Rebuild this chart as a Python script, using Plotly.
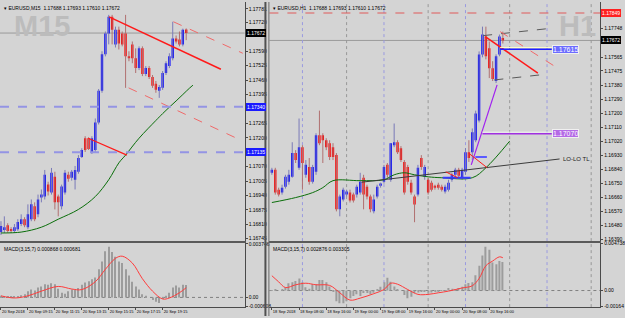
import plotly.graph_objects as go

W, H = 625, 318
BG = "#d4d4d4"

# ---------------- EURUSD M15 (left) ----------------
m15_open = [1.16775,1.16784,1.16806,1.16788,1.16780,1.16788,1.16811,1.16833,1.16797,1.16833,
            1.16891,1.16855,1.16931,1.16935,1.16989,1.16953,1.17024,1.16935,1.16891,1.16953,
            1.17033,1.17020,1.17011,1.17047,1.17113,1.17198,1.17198,1.17136,1.17145,1.17269,
            1.17412,1.17576,1.17670,1.17745,1.17621,1.17687,1.17670,1.17670,1.17567,1.17621,
            1.17558,1.17514,1.17603,1.17487,1.17514,1.17474,1.17443,1.17412,1.17425,1.17492,
            1.17523,1.17558,1.17647,1.17643,1.17621,1.17688]
m15_close = [1.16802,1.16797,1.16780,1.16780,1.16797,1.16820,1.16833,1.16806,1.16855,1.16900,
             1.16833,1.16922,1.16944,1.17033,1.16958,1.17042,1.16909,1.16909,1.16980,1.17042,
             1.17015,1.17047,1.17055,1.17109,1.17145,1.17145,1.17149,1.17198,1.17269,1.17412,
             1.17576,1.17670,1.17745,1.17687,1.17687,1.17625,1.17621,1.17567,1.17558,1.17558,
             1.17514,1.17603,1.17487,1.17514,1.17474,1.17434,1.17416,1.17429,1.17492,1.17536,
             1.17567,1.17647,1.17634,1.17621,1.17687,1.17672]
m15_high = [1.16824,1.16846,1.16815,1.16797,1.16811,1.16833,1.16855,1.16842,1.16900,1.16922,
            1.16909,1.16944,1.16967,1.17055,1.17002,1.17064,1.17047,1.16944,1.16989,1.17055,
            1.17047,1.17055,1.17073,1.17122,1.17153,1.17207,1.17202,1.17207,1.17287,1.17420,
            1.17590,1.17679,1.17754,1.17754,1.17701,1.17701,1.17679,1.17754,1.17590,1.17634,
            1.17603,1.17612,1.17612,1.17523,1.17523,1.17483,1.17456,1.17438,1.17501,1.17545,
            1.17581,1.17723,1.17661,1.17679,1.17692,1.17693]
m15_low = [1.16762,1.16771,1.16771,1.16771,1.16771,1.16780,1.16802,1.16797,1.16788,1.16824,
           1.16824,1.16842,1.16909,1.16922,1.16940,1.16944,1.16877,1.16846,1.16877,1.16944,
           1.17002,1.17007,1.16967,1.17038,1.17109,1.17136,1.17145,1.17127,1.17136,1.17260,
           1.17403,1.17567,1.17621,1.17621,1.17607,1.17598,1.17612,1.17425,1.17545,1.17536,
           1.17492,1.17505,1.17478,1.17478,1.17465,1.17425,1.17403,1.17380,1.17416,1.17483,
           1.17514,1.17549,1.17625,1.17612,1.17612,1.17640]
m15_ma_x = [0, 6, 12, 17, 23, 28, 32, 35, 37, 41, 46, 48, 50, 52, 54, 56, 57]
m15_ma = [1.16771,1.16775,1.16797,1.16833,1.16877,1.16935,1.17011,1.17087,1.17122,1.17198,
          1.17278,1.17309,1.17338,1.17366,1.17395,1.17424,1.17437]
m15_macd = [0.00011,0.00007,0.00004,0.00007,0.00009,0.00009,0.00015,0.00022,0.00044,0.00055,
            0.00048,0.00070,0.00077,0.00092,0.00088,0.00099,0.00092,0.00061,0.00033,0.00026,
            0.00044,0.00055,0.00055,0.00066,0.00088,0.00105,0.00114,0.00127,0.00140,0.00197,
            0.00252,0.00324,0.00355,0.00318,0.00285,0.00252,0.00241,0.00197,0.00153,0.00110,
            0.00077,0.00055,0.00022,0.00011,0.00000,-0.00018,-0.00031,-0.00039,-0.00011,0.00011,
            0.00033,0.00070,0.00083,0.00070,0.00088,0.00087]
m15_sig_x = [0, 4, 8, 12, 17, 21, 24, 28, 31, 34, 36, 39, 42, 45, 48, 50, 53, 55]
m15_sig = [0.00011,-0.00004,0.00011,0.00044,0.00077,0.00059,0.00055,0.00110,0.00197,0.00274,
           0.00289,0.00241,0.00131,0.00044,-0.00011,-0.00004,0.00033,0.00068]
m15_tick_idx = [0, 8, 16, 24, 32, 40, 48]
m15_tick_txt = ["20 Sep 2018", "20 Sep 09:15", "20 Sep 11:15", "20 Sep 13:15",
                "20 Sep 15:15", "20 Sep 17:15", "20 Sep 19:15"]
m15_price_ticks = [1.17781, 1.17720, 1.17590, 1.17525, 1.17460, 1.17395, 1.17265, 1.17200,
                   1.17070, 1.17005, 1.16940, 1.16875, 1.16810, 1.16745]
m15_hlines = [1.17340, 1.17135]
m15_trend_x = [32.1, 65.3]
m15_trend_y = [1.17745, 1.17509]
m15_chan_up_x = [51.2, 71.8]
m15_chan_up_y = [1.17723, 1.17581]
m15_chan_lo_x = [37.9, 69.4]
m15_chan_lo_y = [1.17425, 1.17202]
m15_short_x = [25.9, 37.4]
m15_short_y = [1.17198, 1.17122]
m15_macd_ticks = [0.003746, 0.0, -0.000608]
m15_macd_txt = ["0.003746", "0.00", "-0.000608"]

# ---------------- EURUSD H1 (right) ----------------
h1_open = [1.16818,1.16837,1.16709,1.16690,1.16728,1.16760,1.16792,1.16945,1.16850,1.16983,
           1.16805,1.16856,1.16760,1.16824,1.17060,1.17060,1.17028,1.17009,1.16983,1.16932,
           1.16582,1.16646,1.16677,1.16690,1.16677,1.16677,1.16690,1.16786,1.16728,1.16665,
           1.16569,1.16665,1.16735,1.16760,1.16869,1.16773,1.16996,1.17015,1.16977,1.16888,
           1.16856,1.16754,1.16665,1.16677,1.16913,1.16792,1.16773,1.16754,1.16735,1.16741,
           1.16728,1.16697,1.16709,1.16773,1.16805,1.16837,1.16786,1.16824,1.16951,1.16951,
           1.17028,1.17155,1.17582,1.17697,1.17621,1.17493,1.17410,1.17582,1.17684]
h1_close = [1.16837,1.16690,1.16677,1.16722,1.16792,1.16805,1.16945,1.16900,1.16983,1.16881,
            1.16869,1.16760,1.16856,1.17060,1.17009,1.17028,1.16983,1.16920,1.16920,1.16582,
            1.16665,1.16709,1.16697,1.16639,1.16639,1.16728,1.16760,1.16677,1.16665,1.16582,
            1.16646,1.16728,1.16748,1.16856,1.16805,1.17009,1.17015,1.16951,1.16900,1.16690,
            1.16760,1.16690,1.16614,1.16850,1.16856,1.16856,1.16690,1.16709,1.16722,1.16722,
            1.16709,1.16728,1.16754,1.16805,1.16837,1.16799,1.16837,1.16951,1.16913,1.17079,
            1.17200,1.17582,1.17710,1.17570,1.17493,1.17423,1.17570,1.17697,1.17672]
h1_high = [1.16850,1.16850,1.16722,1.16741,1.16805,1.16837,1.17015,1.16964,1.17168,1.16996,
           1.16900,1.16913,1.16869,1.17073,1.17219,1.17073,1.17041,1.17028,1.17009,1.16945,
           1.16677,1.16722,1.16709,1.16709,1.16690,1.16741,1.16818,1.16805,1.16741,1.16677,
           1.16677,1.16741,1.16754,1.16869,1.16881,1.17009,1.17136,1.17028,1.16990,1.16900,
           1.16869,1.16773,1.16677,1.16869,1.16932,1.16869,1.16786,1.16767,1.16741,1.16754,
           1.16741,1.16741,1.16773,1.16818,1.16850,1.16850,1.16850,1.16977,1.17028,1.17104,
           1.17219,1.17601,1.17761,1.17761,1.17665,1.17538,1.17582,1.17710,1.17729]
h1_low = [1.16805,1.16677,1.16665,1.16677,1.16716,1.16741,1.16786,1.16881,1.16837,1.16709,
          1.16786,1.16741,1.16748,1.16805,1.16996,1.16881,1.16964,1.16900,1.16900,1.16569,
          1.16537,1.16633,1.16665,1.16626,1.16626,1.16658,1.16677,1.16582,1.16646,1.16563,
          1.16556,1.16652,1.16722,1.16748,1.16786,1.16760,1.16983,1.16939,1.16888,1.16677,
          1.16741,1.16677,1.16499,1.16665,1.16837,1.16773,1.16677,1.16697,1.16709,1.16709,
          1.16697,1.16684,1.16697,1.16760,1.16792,1.16786,1.16773,1.16805,1.16888,1.16900,
          1.17015,1.17143,1.17563,1.17550,1.17429,1.17410,1.17397,1.17570,1.17652]
h1_ma_x = [0, 7, 12, 15, 18, 26, 33, 36, 39, 42, 46, 50, 59, 63, 70]
h1_ma = [1.16626,1.16658,1.16690,1.16722,1.16767,1.16767,1.16773,1.16805,1.16818,1.16805,
         1.16792,1.16786,1.16786,1.16850,1.17022]
h1_macd = [0.00006,0.00016,0.00000,0.00013,0.00032,0.00074,0.00084,0.00097,0.00122,0.00084,
           0.00032,0.00019,0.00064,0.00064,0.00106,0.00106,0.00084,0.00042,-0.00006,-0.00109,
           -0.00129,-0.00129,-0.00109,-0.00077,-0.00055,-0.00039,-0.00055,-0.00026,-0.00026,-0.00039,
           -0.00023,0.00010,0.00039,0.00084,0.00129,0.00090,0.00042,0.00016,0.00000,-0.00045,
           -0.00077,-0.00064,-0.00026,-0.00019,-0.00013,-0.00010,-0.00023,-0.00019,-0.00006,-0.00010,
           -0.00003,0.00006,0.00026,0.00019,0.00013,0.00026,0.00039,0.00064,0.00077,0.00084,
           0.00155,0.00251,0.00354,0.00444,0.00412,0.00283,0.00267,0.00299,0.00288]
h1_sig_x = [0, 2, 4, 7, 10, 13, 17, 20, 23, 26, 30, 33, 35, 37, 40, 43, 46, 49, 52, 56, 59, 61,
            63, 65, 67, 68]
h1_sig = [0.00150,0.00088,0.00030,0.00058,0.00074,0.00058,0.00052,-0.00023,-0.00097,-0.00077,
          -0.00032,0.00010,0.00074,0.00064,0.00010,-0.00039,-0.00039,-0.00023,-0.00006,0.00026,
          0.00048,0.00122,0.00251,0.00299,0.00341,0.00332]
h1_tick_idx = [0, 8, 16, 24, 32, 40, 48, 56, 64]
h1_tick_txt = ["18 Sep 2018", "18 Sep 08:00", "18 Sep 16:00", "19 Sep 00:00", "19 Sep 08:00",
               "19 Sep 16:00", "20 Sep 00:00", "20 Sep 08:00", "20 Sep 16:00"]
h1_price_ticks = [1.17748, 1.17565, 1.17475, 1.17380, 1.17290, 1.17200, 1.17110, 1.17020,
                  1.16930, 1.16840, 1.16750, 1.16660, 1.16570, 1.16480, 1.16390]
h1_sess_blue = [9, 33, 57, 81]
h1_sess_grey = [22, 46, 70, 94]
h1_resist = 1.17849
h1_chan_up_x = [62.2, 81.2]
h1_chan_up_y = [1.17703, 1.17748]
h1_chan_lo_x = [65.5, 81.2]
h1_chan_lo_y = [1.17417, 1.17455]
h1_red_x = [62.8, 78.3]
h1_red_y = [1.17697, 1.17461]
h1_redd_x = [67.2, 83.2]
h1_redd_y = [1.17729, 1.17506]
h1_purple_x = [58.7, 66.3]
h1_purple_y = [1.16869, 1.17385]
h1_lolo_x = [26.4, 84.7]
h1_lolo_y = [1.16757, 1.16907]
h1_lvl1 = 1.17615
h1_lvl1_x = [67.2, 82.4]
h1_lvl2 = 1.17070
h1_lvl2_x = [62.0, 82.4]
h1_blue1_x = [50.3, 58.5]
h1_blue1_y = 1.16786
h1_blue2_x = [59.9, 63.3]
h1_blue2_y = 1.16920
h1_rs1_x = [57.9, 63.4]
h1_rs1_y = [1.16945, 1.16850]
h1_rs2_x = [51.2, 54.7]
h1_rs2_y = [1.16824, 1.16786]
h1_macd_ticks = [0.004738, 0.0, -0.00164]
h1_macd_txt = ["0.004738", "0.00", "-0.00164"]

current_price = 1.17672

# ---------------- layout geometry (pixels -> paper) ----------------
LX = [0, 247 / W]
RX = [272 / W, 606 / W]
MAIN_Y = [1 - 242 / H, 1]
MACD_Y = [1 - 309 / H, 1 - 244 / H]

BULL = "#0000ff"
BEAR = "#ff0000"
TICKF = dict(family="Liberation Sans", size=5, color="#000000")
DATEF = dict(family="Liberation Sans", size=4, color="#000000")

fig = go.Figure()


def add_candles(o, c, h, l, xa, ya):
    idx = list(range(len(o)))
    for up, col in ((True, "#7a7ab8"), (False, "#b07070")):
        xs, ys = [], []
        for i in idx:
            if (c[i] >= o[i]) == up:
                xs += [i, i, None]
                ys += [h[i], l[i], None]
        fig.add_trace(go.Scatter(x=xs, y=ys, mode="lines", line=dict(color=col, width=1),
                                 xaxis=xa, yaxis=ya, hoverinfo="skip"))
    fig.add_trace(go.Bar(x=idx, y=[c[i] - o[i] for i in idx], base=o, width=0.7,
                         marker=dict(color=[BULL if c[i] >= o[i] else BEAR for i in idx],
                                     line=dict(width=0)),
                         xaxis=xa, yaxis=ya))


def add_line(x, y, xa, ya, color, width=1, dash="solid", shape="linear"):
    fig.add_trace(go.Scatter(x=x, y=y, mode="lines",
                             line=dict(color=color, width=width, dash=dash, shape=shape),
                             xaxis=xa, yaxis=ya, hoverinfo="skip"))


# left main
add_candles(m15_open, m15_close, m15_high, m15_low, "x", "y")
add_line(m15_ma_x, m15_ma, "x", "y", "#0a6e0a", 1, shape="spline")
add_line(m15_trend_x, m15_trend_y, "x", "y", "#ff1a1a", 1.5)
add_line(m15_chan_up_x, m15_chan_up_y, "x", "y", "#f06a6a", 1, "dash")
add_line(m15_chan_lo_x, m15_chan_lo_y, "x", "y", "#f06a6a", 1, "dash")
add_line(m15_short_x, m15_short_y, "x", "y", "#ff1a1a", 1.2)

# left macd
fig.add_trace(go.Bar(x=list(range(len(m15_macd))), y=m15_macd, width=0.3,
                     marker=dict(color="#9c9c9c", line=dict(width=0)), xaxis="x2", yaxis="y2"))
add_line(m15_sig_x, m15_sig, "x2", "y2", "#ff3b3b", 1, shape="spline")

# right main
add_candles(h1_open, h1_close, h1_high, h1_low, "x3", "y3")
add_line(h1_ma_x, h1_ma, "x3", "y3", "#0a6e0a", 1, shape="spline")
add_line(h1_lolo_x, h1_lolo_y, "x3", "y3", "#3c3c3c", 1)
add_line(h1_chan_up_x, h1_chan_up_y, "x3", "y3", "#5a5a5a", 1, "dash")
add_line(h1_chan_lo_x, h1_chan_lo_y, "x3", "y3", "#5a5a5a", 1, "dash")
add_line(h1_red_x, h1_red_y, "x3", "y3", "#ff1a1a", 1.5)
add_line(h1_redd_x, h1_redd_y, "x3", "y3", "#f06a6a", 1, "dash")
add_line(h1_purple_x, h1_purple_y, "x3", "y3", "#a020f0", 1.2)
add_line(h1_lvl1_x, [h1_lvl1 + 0.00011] * 2, "x3", "y3", "#ffffc8", 1)
add_line(h1_lvl1_x, [h1_lvl1] * 2, "x3", "y3", "#1e1eff", 1.5)
add_line(h1_lvl2_x, [h1_lvl2 + 0.00010] * 2, "x3", "y3", "#f4f4f4", 1)
add_line(h1_lvl2_x, [h1_lvl2] * 2, "x3", "y3", "#a030e0", 1.5)
add_line(h1_blue1_x, [h1_blue1_y] * 2, "x3", "y3", "#3a3aff", 2)
add_line(h1_blue2_x, [h1_blue2_y] * 2, "x3", "y3", "#5a5aff", 2)
add_line(h1_rs1_x, h1_rs1_y, "x3", "y3", "#ff1a1a", 1)
add_line(h1_rs2_x, h1_rs2_y, "x3", "y3", "#ff1a1a", 1)

# right macd
fig.add_trace(go.Bar(x=list(range(len(h1_macd))), y=h1_macd, width=0.3,
                     marker=dict(color="#9c9c9c", line=dict(width=0)), xaxis="x4", yaxis="y4"))
add_line(h1_sig_x, h1_sig, "x4", "y4", "#ff3b3b", 1, shape="spline")

shapes = []
shapes.append(dict(type="line", xref="x domain", yref="y", x0=0, x1=1, y0=current_price,
                   y1=current_price, line=dict(color="#9a9a9a", width=1), layer="below"))
for v in m15_hlines:
    shapes.append(dict(type="line", xref="x domain", yref="y", x0=0, x1=1, y0=v, y1=v,
                       line=dict(color="#9494e4", width=2, dash="dash")))
shapes.append(dict(type="line", xref="x3 domain", yref="y3", x0=0, x1=1, y0=current_price,
                   y1=current_price, line=dict(color="#9a9a9a", width=1), layer="below"))
shapes.append(dict(type="line", xref="x3 domain", yref="y3", x0=0, x1=1, y0=h1_resist,
                   y1=h1_resist, line=dict(color="#e05a5a", width=1.2, dash="dash")))
for v in h1_sess_blue:
    shapes.append(dict(type="line", xref="x3", yref="paper", x0=v, x1=v, y0=MACD_Y[0], y1=1,
                       line=dict(color="#9a9ae0", width=1, dash="dot"), layer="below"))
for v in h1_sess_grey:
    shapes.append(dict(type="line", xref="x3", yref="paper", x0=v, x1=v, y0=MACD_Y[0], y1=1,
                       line=dict(color="#989898", width=1, dash="dot"), layer="below"))
for xa, ya in (("x2", "y2"), ("x4", "y4")):
    shapes.append(dict(type="line", xref=xa + " domain", yref=ya, x0=0, x1=1, y0=0, y1=0,
                       line=dict(color="#808080", width=1, dash="dot"), layer="below"))
shapes.append(dict(type="line", xref="paper", yref="paper", x0=268 / W, x1=268 / W, y0=0, y1=1,
                   line=dict(color="#505050", width=2)))
shapes.append(dict(type="line", xref="paper", yref="paper", x0=271.5 / W, x1=271.5 / W, y0=0,
                   y1=1, line=dict(color="#6a6a6a", width=1)))

annotations = []


def box(x, y, text, bg, fg="#ffffff", xref="paper", yref="y", size=5, border=None):
    annotations.append(dict(x=x, y=y, xref=xref, yref=yref, text=text, showarrow=False,
                            xanchor="left", yanchor="middle", bgcolor=bg,
                            bordercolor=border or bg, borderwidth=1, borderpad=0,
                            font=dict(family="Liberation Sans", size=size, color=fg)))


box(248 / W, current_price, "1.17672", "#000000")
box(248 / W, m15_hlines[0], "1.17340", "#1a1aff")
box(248 / W, m15_hlines[1], "1.17135", "#1a1aff")
box(607 / W, h1_resist, "1.17849", "#ff2020", yref="y3")
box(607 / W, current_price, "1.17672", "#000000", yref="y3")
box(h1_lvl1_x[1], h1_lvl1, "1.17615", "#6c6cff", xref="x3", yref="y3", size=7,
    border="#f0f0f0")
box(h1_lvl2_x[1], h1_lvl2, "1.17070", "#b46ae6", xref="x3", yref="y3", size=7,
    border="#f0f0f0")
annotations.append(dict(x=h1_lolo_x[1] + 0.3, y=h1_lolo_y[1], xref="x3", yref="y3",
                        text="LO-LO TL", showarrow=False, xanchor="left", yanchor="middle",
                        font=dict(family="Liberation Sans", size=6, color="#202020")))
for xp, t in ((2 / W, "▾ EURUSD,M15  1.17688 1.17693 1.17610 1.17672"),
              (274 / W, "▾ EURUSD,H1  1.17688 1.17693 1.17610 1.17672")):
    annotations.append(dict(x=xp, y=1 - 1 / H, xref="paper", yref="paper", text=t,
                            showarrow=False, xanchor="left", yanchor="top",
                            font=dict(family="Liberation Sans", size=5, color="#000000")))
for xp, t in ((12 / W, "M15"), (562 / W, "H1")):
    annotations.append(dict(x=xp, y=1 - 6 / H, xref="paper", yref="paper", text="<b>" + t + "</b>",
                            showarrow=False, xanchor="left", yanchor="top",
                            font=dict(family="Liberation Sans", size=29, color="#bcbcbc")))
for xp, t in ((2 / W, "MACD(3,15,7) 0.000868 0.000681"),
              (274 / W, "MACD(3,15,7) 0.002876 0.003305")):
    annotations.append(dict(x=xp, y=1 - 245 / H, xref="paper", yref="paper", text=t,
                            showarrow=False, xanchor="left", yanchor="top",
                            font=dict(family="Liberation Sans", size=5, color="#000000")))

axis_common = dict(showgrid=False, zeroline=False, showline=True, linecolor="#4a4a4a",
                   linewidth=1)

fig.update_layout(
    width=W, height=H, margin=dict(l=0, r=0, t=0, b=0),
    paper_bgcolor=BG, plot_bgcolor=BG, showlegend=False, barmode="overlay",
    shapes=shapes, annotations=annotations,
    xaxis=dict(domain=LX, anchor="y", range=[-0.29, 72.35], showticklabels=False, ticks="",
               showgrid=False, zeroline=False, showline=True, linecolor="#5a5a5a", linewidth=2),
    yaxis=dict(domain=MAIN_Y, anchor="x", side="right", range=[1.16735, 1.17812],
               tickvals=m15_price_ticks, ticktext=[f"{v:.5f}" for v in m15_price_ticks],
               ticks="outside", ticklen=2, tickcolor="#4a4a4a", tickfont=TICKF, **axis_common),
    xaxis2=dict(domain=LX, anchor="y2", range=[-0.29, 72.35], tickvals=m15_tick_idx,
                ticktext=m15_tick_txt, ticks="outside", ticklen=2, tickcolor="#4a4a4a",
                tickangle=0, ticklabelposition="outside right", tickfont=DATEF, **axis_common),
    yaxis2=dict(domain=MACD_Y, anchor="x2", side="right", range=[-0.00068, 0.00382],
                tickvals=m15_macd_ticks, ticktext=m15_macd_txt, ticks="outside", ticklen=2,
                tickcolor="#4a4a4a", tickfont=TICKF, **axis_common),
    xaxis3=dict(domain=RX, anchor="y3", range=[-0.73, 96.65], showticklabels=False, ticks="",
                showgrid=False, zeroline=False, showline=True, linecolor="#5a5a5a", linewidth=2),
    yaxis3=dict(domain=MAIN_Y, anchor="x3", side="right", range=[1.16378, 1.17920],
                tickvals=h1_price_ticks, ticktext=[f"{v:.5f}" for v in h1_price_ticks],
                ticks="outside", ticklen=2, tickcolor="#4a4a4a", tickfont=TICKF, **axis_common),
    xaxis4=dict(domain=RX, anchor="y4", range=[-0.73, 96.65], tickvals=h1_tick_idx,
                ticktext=h1_tick_txt, ticks="outside", ticklen=2, tickcolor="#4a4a4a",
                tickangle=0, ticklabelposition="outside right", tickfont=DATEF, **axis_common),
    yaxis4=dict(domain=MACD_Y, anchor="x4", side="right", range=[-0.00168, 0.00482],
                tickvals=h1_macd_ticks, ticktext=h1_macd_txt, ticks="outside", ticklen=2,
                tickcolor="#4a4a4a", tickfont=TICKF, **axis_common),
)

fig.write_html("out.html")
